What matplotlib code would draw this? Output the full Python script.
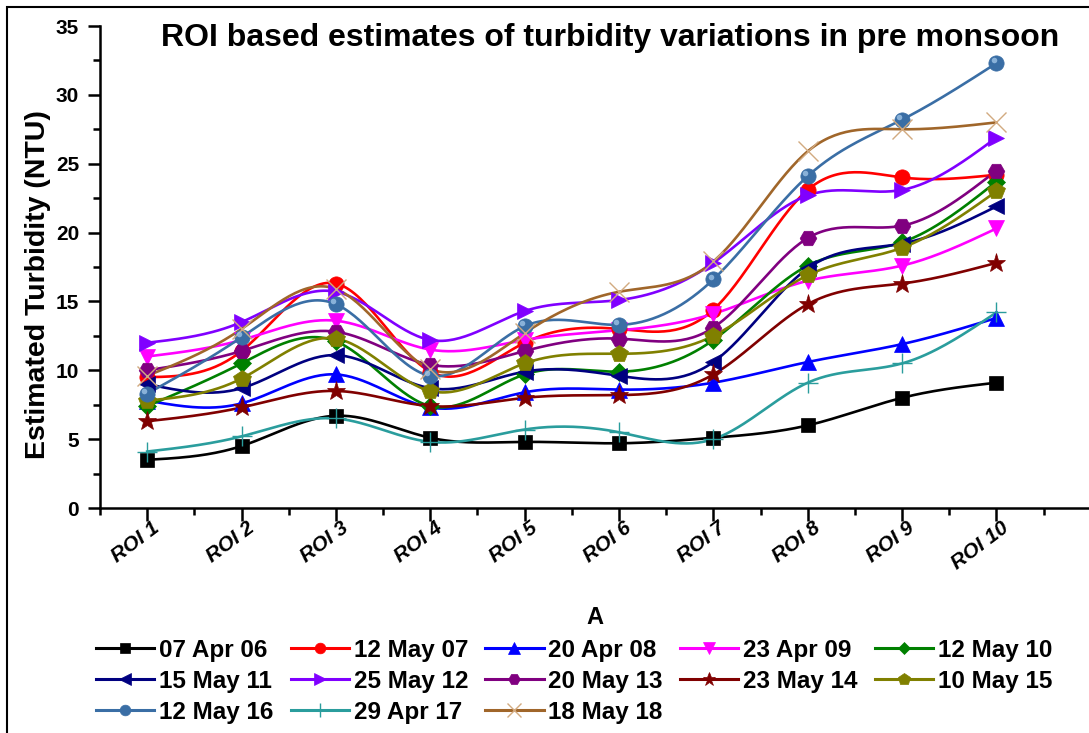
import numpy as np
import matplotlib
matplotlib.use("Agg")
import matplotlib.pyplot as plt
import matplotlib.transforms as mtransforms
from matplotlib.patches import Rectangle
from matplotlib.lines import Line2D

plt.rcParams['font.family'] = ['Liberation Sans', 'DejaVu Sans']
plt.rcParams['font.weight'] = 'bold'

roi_labels = ['ROI 1', 'ROI 2', 'ROI 3', 'ROI 4', 'ROI 5',
              'ROI 6', 'ROI 7', 'ROI 8', 'ROI 9', 'ROI 10']

apr06 = [3.5, 4.5, 6.7, 5.1, 4.8, 4.7, 5.1, 6.0, 8.0, 9.1]
may07 = [9.5, 11.4, 16.3, 9.9, 12.0, 13.0, 14.4, 23.1, 24.0, 24.2]
apr08 = [7.8, 7.6, 9.7, 7.3, 8.4, 8.6, 9.1, 10.6, 11.9, 13.8]
apr09 = [11.0, 12.2, 13.6, 11.5, 12.2, 12.9, 14.1, 16.5, 17.6, 20.3]
may10 = [7.4, 10.5, 12.1, 7.4, 9.7, 9.9, 12.2, 17.6, 19.3, 23.7]
may11 = [9.0, 8.7, 11.1, 8.7, 9.9, 9.6, 10.6, 17.4, 19.2, 21.9]
may12 = [12.0, 13.5, 15.7, 12.2, 14.3, 15.1, 17.8, 22.7, 23.1, 26.9]
may13 = [10.0, 11.4, 12.8, 10.4, 11.4, 12.3, 13.1, 19.6, 20.5, 24.5]
may14 = [6.3, 7.3, 8.5, 7.4, 8.0, 8.2, 9.7, 14.8, 16.3, 17.8]
may15 = [7.8, 9.4, 12.3, 8.5, 10.5, 11.2, 12.5, 16.9, 18.9, 23.0]
may16 = [8.3, 12.4, 14.8, 9.6, 13.2, 13.3, 16.6, 24.1, 28.2, 32.3]
apr17 = [4.1, 5.2, 6.5, 4.8, 5.7, 5.5, 5.0, 9.1, 10.5, 14.2]
may18 = [9.6, 13.0, 15.9, 10.1, 12.7, 15.7, 17.9, 25.9, 27.5, 28.0]

series_names = ['07 Apr 06', '12 May 07', '20 Apr 08', '23 Apr 09', '12 May 10',
                '15 May 11', '25 May 12', '20 May 13', '23 May 14', '10 May 15',
                '12 May 16', '29 Apr 17', '18 May 18']
series_values = [apr06, may07, apr08, apr09, may10, may11, may12,
                 may13, may14, may15, may16, apr17, may18]

# line colour, marker, marker colour, marker size
styles = [
    ('#000000', 's', '#000000', 10),
    ('#FF0000', 'o', '#FF0000', 11),
    ('#0000FF', '^', '#0000FF', 12),
    ('#FF00FF', 'v', '#FF00FF', 12),
    ('#008000', 'D', '#008000', 9),
    ('#000080', '<', '#000080', 12),
    ('#8000FF', '>', '#8000FF', 12),
    ('#800080', 'H', '#800080', 12),
    ('#800000', '*', '#800000', 14),
    ('#808000', 'p', '#808000', 13),
    ('#3A6EA5', 'o', '#3A6EA5', 11),
    ('#2A9D9D', '+', '#2A9D9D', 14),
    ('#A0662A', 'x', '#D2AA80', 14),
]


def natural_spline(x, y, n=300):
    # natural cubic spline through the points, for smooth connecting lines
    x = np.asarray(x, float)
    y = np.asarray(y, float)
    k = len(x)
    h = np.diff(x)
    A = np.zeros((k, k))
    b = np.zeros(k)
    A[0, 0] = A[-1, -1] = 1.0
    for i in range(1, k - 1):
        A[i, i - 1] = h[i - 1]
        A[i, i] = 2 * (h[i - 1] + h[i])
        A[i, i + 1] = h[i]
        b[i] = 6 * ((y[i + 1] - y[i]) / h[i] - (y[i] - y[i - 1]) / h[i - 1])
    m = np.linalg.solve(A, b)
    xs = np.linspace(x[0], x[-1], n)
    idx = np.clip(np.searchsorted(x, xs) - 1, 0, k - 2)
    x0, x1 = x[idx], x[idx + 1]
    y0, y1 = y[idx], y[idx + 1]
    m0, m1 = m[idx], m[idx + 1]
    hh = x1 - x0
    t0 = x1 - xs
    t1 = xs - x0
    ys = (m0 * t0 ** 3 + m1 * t1 ** 3) / (6 * hh) \
        + (y0 / hh - m0 * hh / 6) * t0 + (y1 / hh - m1 * hh / 6) * t1
    return xs, ys


fig = plt.figure(figsize=(10.89, 7.33), dpi=100)
ax = fig.add_axes([100 / 1089, 225 / 733, 1038 / 1089, 482 / 733])

xpos = np.arange(1, len(roi_labels) + 1)
handles = []
for name, vals, (lc, mk, mc, ms) in zip(series_names, series_values, styles):
    xs, ys = natural_spline(xpos, vals)
    ax.plot(xs, ys, color=lc, lw=1.9, zorder=2)
    thin = mk in ('+', 'x')
    ax.plot(xpos, vals, ls='none', marker=mk, ms=ms, color=mc,
            mec=mc, mew=1.0 if thin else 0.5, zorder=3)
    if name == '12 May 16':
        # small highlight so the markers look like shaded balls
        ax.plot(xpos - 0.03, np.array(vals) + 0.2, ls='none', marker='o',
                ms=4, color='#9EC3E6', mec='none', alpha=0.8, zorder=4)
    handles.append(Line2D([], [], color=lc, lw=2.2, marker=mk, ms=ms * 0.7,
                          mfc=mc, mec=mc, mew=1.0 if thin else 0.5))

ax.set_xlim(0.5, 11.5)
ax.set_ylim(0, 35)
ax.set_xticks(np.arange(1, 12))
ax.set_xticklabels(roi_labels + [''], rotation=37, fontsize=15,
                   fontweight='bold', style='italic', ha='right')
ax.set_xticks(np.arange(0.5, 12, 1.0), minor=True)
ax.set_yticks(np.arange(0, 36, 5))
ax.set_yticks(np.arange(0, 36, 2.5), minor=True)
ax.tick_params(axis='y', labelsize=15, pad=6)
ax.tick_params(which='major', direction='out', length=9, width=1.8)
ax.tick_params(which='minor', direction='out', length=5, width=1.8)
for lab in ax.get_yticklabels():
    lab.set_fontweight('bold')
shift = mtransforms.ScaledTranslation(0.16, 0.07, fig.dpi_scale_trans)
for lab in ax.get_xticklabels():
    lab.set_transform(lab.get_transform() + shift)

for side in ('top', 'right'):
    ax.spines[side].set_visible(False)
for side in ('left', 'bottom'):
    ax.spines[side].set_linewidth(1.8)

fig.text(38 / 1089, 1 - 285 / 733, 'Estimated Turbidity (NTU)', fontsize=20.5,
         fontweight='bold', rotation=90, ha='center', va='center')
fig.text(595 / 1089, 1 - 617 / 733, 'A', fontsize=17, fontweight='bold',
         ha='center', va='center')
fig.text(610 / 1089, 1 - 38 / 733,
         'ROI based estimates of turbidity variations in pre monsoon',
         fontsize=23, fontweight='bold', ha='center', va='center')

# legend entries fill row by row, five per row
order = [0, 5, 10, 1, 6, 11, 2, 7, 12, 3, 8, 4, 9]
fig.legend([handles[i] for i in order], [series_names[i] for i in order],
           loc='upper left', ncol=5, frameon=False,
           bbox_to_anchor=(96 / 1089, 1 - 639 / 733), borderpad=0,
           borderaxespad=0, handlelength=2.4, handletextpad=0.2,
           columnspacing=0.7, labelspacing=0.32,
           prop={'size': 17.5, 'weight': 'bold'})

# outer frame around the figure
fig.patches.append(Rectangle((7 / 1089, -0.1), 1.2, 1.1 - 7 / 733,
                             transform=fig.transFigure, fill=False,
                             lw=1.5, ec='black'))

fig.savefig('out.png', dpi=100)
